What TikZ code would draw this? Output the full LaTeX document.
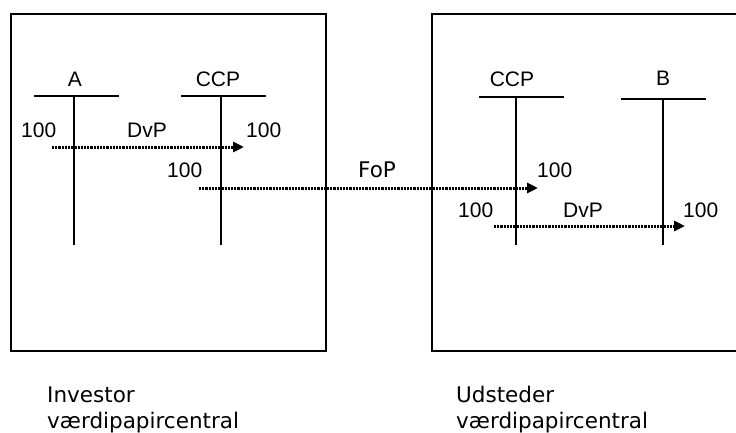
\documentclass[tikz,border=0pt]{standalone}
\usepackage{fontspec}
\setmainfont{Liberation Sans}
\newfontfamily\tahoma{DejaVu Sans}
\usetikzlibrary{arrows.meta}

\begin{document}
\begin{tikzpicture}[x=1pt,y=-1pt, every node/.style={font=\fontsize{21}{23}\selectfont, inner sep=0pt}]
\tikzset{
  boks/.style={line width=2.4pt},
  konto/.style={line width=1.9pt},
  flyt/.style={line width=3pt, dash pattern=on 2.2pt off 1pt, -{Triangle[length=11pt,width=10pt]}},
  tal/.style={anchor=base west},
  navn/.style={anchor=base},
  central/.style={anchor=base west, font=\tahoma\fontsize{21.5}{23}\selectfont}
}
\useasboundingbox (0,0) rectangle (736,432);
%
% the two securities depositories
\draw[boks] (11,14) rectangle (326,351);
\draw[boks] (432,14) rectangle (742,351);
%
% T-accounts
\node[navn] (kontoA) at (75,86) {A};
\draw[konto] (34,96) -- (119,96);
\draw[konto] (74,96) -- (74,245);
%
\node[navn] (kontoCCPi) at (218,86) {CCP};
\draw[konto] (181,96) -- (266,96);
\draw[konto] (221,96) -- (221,245);
%
\node[navn] (kontoCCPu) at (512,86) {CCP};
\draw[konto] (479,97) -- (564,97);
\draw[konto] (516,97) -- (516,245);
%
\node[navn] (kontoB) at (663,85) {B};
\draw[konto] (621,99) -- (706,99);
\draw[konto] (663,99) -- (663,245);
%
% DvP in the investor depository
\node[tal] (tA) at (21,137) {100};
\node[tal] (dvpi) at (127,137) {DvP};
\node[tal] (tCCPi) at (246,137) {100};
\coordinate (dvpiStart) at (52,147);
\coordinate (dvpiSlut) at (244,147);
\draw[flyt] (dvpiStart) -- (dvpiSlut);
%
% FoP between the depositories
\node[tal] (tFoPi) at (167,177) {100};
\node[central] (fop) at (358,177) {FoP};
\node[tal] (tFoPu) at (537,177) {100};
\coordinate (fopStart) at (199,188);
\coordinate (fopSlut) at (538,188);
\draw[flyt] (fopStart) -- (fopSlut);
%
% DvP in the issuer depository
\node[tal] (tCCPu) at (458,217) {100};
\node[tal] (dvpu) at (563,217) {DvP};
\node[tal] (tB) at (683,217) {100};
\coordinate (dvpuStart) at (494,226);
\coordinate (dvpuSlut) at (685,226);
\draw[flyt] (dvpuStart) -- (dvpuSlut);
%
% captions
\node[central] (investor) at (47,402) {Investor};
\node[central] (investorVP) at (47,428) {værdipapircentral};
\node[central] (udsteder) at (456,402) {Udsteder};
\node[central] (udstederVP) at (456,428) {værdipapircentral};
\end{tikzpicture}
\end{document}
